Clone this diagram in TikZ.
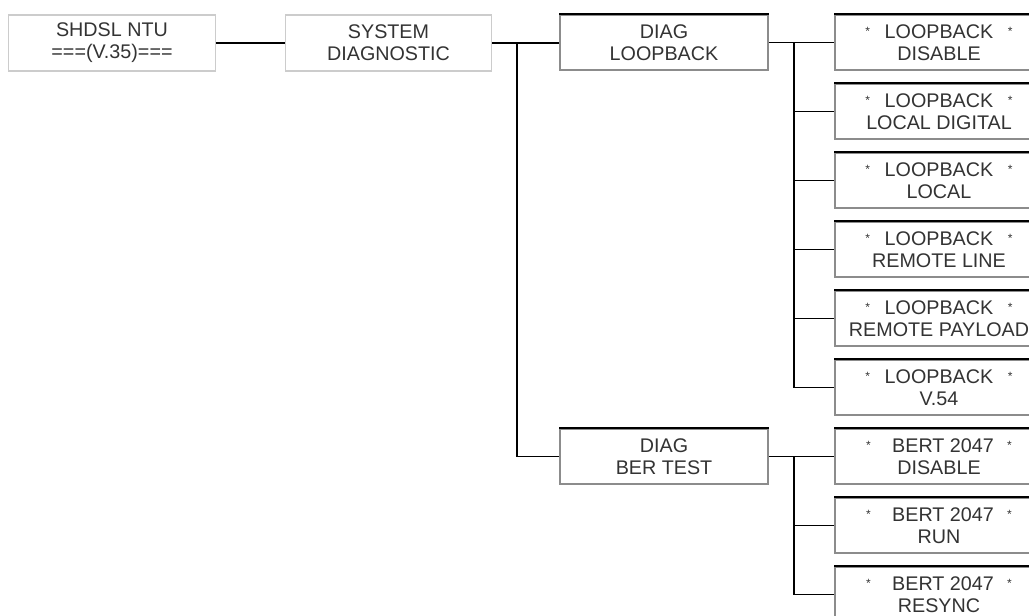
\documentclass[tikz,border=0pt]{standalone}
\usepackage{fontspec}
\setmainfont{Liberation Sans}
\newcommand{\myast}{\raisebox{0.25ex}{\small *}}
\begin{document}
\begin{tikzpicture}[x=0.75pt,y=-0.75pt,
  base/.style={rectangle, align=center, inner sep=0pt,
    font=\fontsize{14.8}{16.5}\selectfont, text=black!80},
  lbox/.style={base, draw=black!20, line width=0.8pt, minimum width=155pt, minimum height=42pt},
  dbox/.style={base, draw=black!45, line width=1.3pt, minimum width=156pt, minimum height=41.5pt,
    append after command={(\tikzlastnode.north west) edge[black, line width=0.9pt] (\tikzlastnode.north east)}},
  conn/.style={black, line width=1pt}]
\clip (0,0) rectangle (1029,616);
\fill[white] (0,0) rectangle (1029,616);
\node[lbox] (ntu) at (112,43) {SHDSL NTU\\===(V.35)===};
\node[lbox] (sys) at (388.5,43) {SYSTEM\\DIAGNOSTIC};
\node[dbox] (lb) at (664,42.5) {DIAG\\LOOPBACK};
\node[dbox] (ber) at (664,456.5) {DIAG\\BER TEST};
\node[dbox] (r0) at (939,42.5) {\myast\hspace{11pt}LOOPBACK\hspace{11pt}\myast\\DISABLE};
\node[dbox] (r1) at (939,111.5) {\myast\hspace{11pt}LOOPBACK\hspace{11pt}\myast\\LOCAL DIGITAL};
\node[dbox] (r2) at (939,180.5) {\myast\hspace{11pt}LOOPBACK\hspace{11pt}\myast\\LOCAL};
\node[dbox] (r3) at (939,249.5) {\myast\hspace{11pt}LOOPBACK\hspace{11pt}\myast\\REMOTE LINE};
\node[dbox] (r4) at (939,318.5) {\myast\hspace{11pt}LOOPBACK\hspace{11pt}\myast\\REMOTE PAYLOAD};
\node[dbox] (r5) at (939,387.5) {\myast\hspace{11pt}LOOPBACK\hspace{11pt}\myast\\V.54};
\node[dbox] (b0) at (939,456.5) {\myast\hspace{16pt}BERT 2047\hspace{10pt}\myast\\DISABLE};
\node[dbox] (b1) at (939,525.5) {\myast\hspace{16pt}BERT 2047\hspace{10pt}\myast\\RUN};
\node[dbox] (b2) at (939,594.5) {\myast\hspace{16pt}BERT 2047\hspace{10pt}\myast\\RESYNC};
\coordinate (j1) at (517,43);
\coordinate (j2) at (794,42.5);
\coordinate (j3) at (794,456.5);
\draw[conn] (ntu.east) -- (sys.west);
\draw[conn] (sys.east) -- (j1) -- (lb.west |- j1);
\draw[conn] (j1) |- (ber.west);
\draw[conn] (lb.east) -- (r0.west);
\foreach \n in {r1,r2,r3,r4,r5} \draw[conn] (j2) |- (\n.west);
\draw[conn] (ber.east) -- (b0.west);
\foreach \n in {b1,b2} \draw[conn] (j3) |- (\n.west);
\end{tikzpicture}
\end{document}
